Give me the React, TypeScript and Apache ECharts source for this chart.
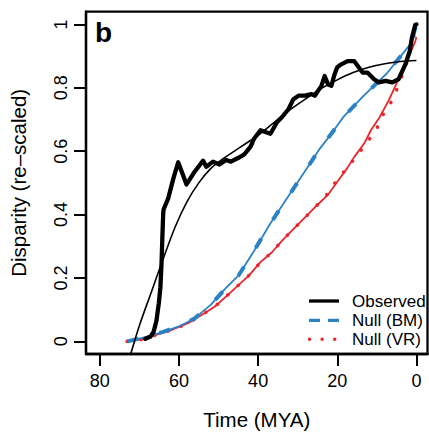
import React, { useEffect, useRef } from "react";
import * as echarts from "echarts";

// ---- data ----
const obsX = [68.5, 67.2, 66.4, 65.7, 65.1, 64.7, 64.4, 64.2, 64.0, 63.9, 62.7, 61.4, 60.2, 58.1, 56.0, 53.9, 53.1, 51.4, 49.8, 48.1, 46.9, 44.8, 43.5, 41.9, 41.0, 39.4, 36.9, 35.2, 34.0, 32.3, 31.1, 29.8, 28.2, 26.5, 25.7, 24.0, 23.2, 22.3, 21.5, 20.7, 20.0, 19.0, 17.4, 15.7, 14.5, 13.6, 12.4, 11.5, 10.7, 9.5, 7.8, 6.1, 4.5, 2.8, 1.7, 1.15, 0.3, 0];
const obsY = [0.008, 0.015, 0.03, 0.065, 0.12, 0.17, 0.25, 0.33, 0.40, 0.416, 0.452, 0.515, 0.565, 0.495, 0.536, 0.57, 0.551, 0.567, 0.558, 0.572, 0.567, 0.58, 0.59, 0.614, 0.64, 0.666, 0.655, 0.692, 0.707, 0.733, 0.764, 0.775, 0.775, 0.78, 0.775, 0.806, 0.837, 0.81, 0.806, 0.842, 0.865, 0.874, 0.884, 0.884, 0.863, 0.848, 0.848, 0.837, 0.827, 0.817, 0.822, 0.817, 0.827, 0.874, 0.915, 0.957, 0.998, 1.0];

const fitX = [72.2, 70, 67, 64, 61, 58, 55, 52, 49, 46, 43, 40, 36, 32, 28, 24, 20, 16, 12, 8, 4, 0];
const fitY = [-0.04, 0.05, 0.155, 0.26, 0.36, 0.44, 0.50, 0.545, 0.575, 0.60, 0.625, 0.65, 0.69, 0.73, 0.765, 0.798, 0.825, 0.848, 0.865, 0.876, 0.883, 0.886];

const bmX = [73, 68, 64, 60, 56, 52, 48, 45, 41, 37, 32.5, 28, 24.4, 21.5, 18.5, 13.3, 7.5, 3, 1.4, 0];
const bmY = [0, 0.015, 0.03, 0.047, 0.073, 0.115, 0.17, 0.207, 0.286, 0.37, 0.455, 0.54, 0.608, 0.655, 0.707, 0.775, 0.845, 0.915, 0.94, 1.0];

const vrX = [73.1, 68.9, 65.6, 61.4, 57.7, 53.9, 51.0, 47.7, 42.3, 39.4, 36.5, 34.0, 31.1, 28.2, 25.3, 22.3, 19.9, 17.4, 15.7, 13.2, 11.5, 9.3, 7.0, 4.9, 2.4, 0.3, 0];
const vrY = [0, 0.007, 0.021, 0.038, 0.057, 0.086, 0.109, 0.146, 0.208, 0.25, 0.281, 0.317, 0.354, 0.39, 0.427, 0.463, 0.505, 0.548, 0.582, 0.624, 0.666, 0.707, 0.76, 0.817, 0.884, 0.946, 0.96];

const vrDotX = [73.1, 68.9, 65.6, 61.4, 57.7, 53.9, 51.0, 47.7, 42.3, 39.4, 36.5, 34.0, 31.1, 28.2, 25.3, 22.8, 20.5, 18.0, 15.5, 13.0, 10.1, 8.9, 6.8, 5.1, 3.7, 2.3, 1.4, 0.4, 0];
const vrDotY = [0, 0.007, 0.021, 0.038, 0.057, 0.086, 0.109, 0.146, 0.208, 0.25, 0.281, 0.317, 0.354, 0.39, 0.427, 0.46, 0.501, 0.54, 0.579, 0.619, 0.668, 0.707, 0.744, 0.79, 0.835, 0.884, 0.93, 0.975, 1.0];

const xTicks = [0, 20, 40, 60, 80];
const yTicks = [0, 0.2, 0.4, 0.6, 0.8, 1];
const legendNames = ["Observed", "Null (BM)", "Null (VR)"];

const FONT = "'Liberation Sans', Arial, Helvetica, sans-serif";
const BLUE = "#2a82c5";
const RED = "#e8262b";

const pairs = (xs: number[], ys: number[]) => xs.map((x, i) => [x, ys[i]]);

export default function App() {
  const ref = useRef<HTMLDivElement>(null);
  useEffect(() => {
    if (!ref.current) return;
    const chart = echarts.init(ref.current, undefined, { renderer: "svg" });
    const lx1 = 309, lx2 = 339, tx = 352;
    const rows = [301, 320.3, 339.3];
    chart.setOption({
      animation: false,
      backgroundColor: "#fff",
      grid: {
        left: 81.7, top: 11.7, right: 1.5, bottom: 77.3,
        show: true, borderColor: "#000", borderWidth: 2.3, backgroundColor: "transparent",
      },
      xAxis: {
        type: "value", inverse: true, min: -2.8, max: 83.5,
        name: "Time (MYA)", nameLocation: "middle", nameGap: 55,
        nameTextStyle: { fontSize: 20.5, color: "#000", fontFamily: FONT },
        axisLine: { show: true, onZero: false, lineStyle: { color: "#000", width: 2.3 } },
        axisTick: { show: true, inside: false, length: 12, customValues: xTicks, lineStyle: { color: "#000", width: 2 } },
        axisLabel: { customValues: xTicks, fontSize: 18, color: "#000", margin: 18, fontFamily: FONT },
        splitLine: { show: false },
      },
      yAxis: {
        type: "value", min: -0.04, max: 1.04,
        name: "Disparity (re\u2013scaled)", nameLocation: "middle", nameGap: 57,
        nameTextStyle: { fontSize: 20.5, color: "#000", fontFamily: FONT },
        axisLine: { show: true, onZero: false, lineStyle: { color: "#000", width: 2.3 } },
        axisTick: { show: true, inside: false, length: 12, customValues: yTicks, lineStyle: { color: "#000", width: 2 } },
        axisLabel: { customValues: yTicks, rotate: 90, fontSize: 18, color: "#000", margin: 16, fontFamily: FONT },
        splitLine: { show: false },
      },
      series: [
        { type: "line", name: "vrLine", data: pairs(vrX, vrY), showSymbol: false, lineStyle: { color: RED, width: 1.8 }, z: 2 },
        { type: "line", name: legendNames[2], data: pairs(vrDotX, vrDotY), showSymbol: false, lineStyle: { color: RED, width: 3.6, type: [0.1, 14], cap: "round" }, z: 3 },
        { type: "line", name: "bmLine", data: pairs(bmX, bmY), showSymbol: false, lineStyle: { color: BLUE, width: 1.8 }, z: 4 },
        { type: "line", name: legendNames[1], data: pairs(bmX, bmY), showSymbol: false, lineStyle: { color: BLUE, width: 4, type: [11, 22] }, z: 5 },
        { type: "line", name: "fit", data: pairs(fitX, fitY), showSymbol: false, smooth: 0.3, lineStyle: { color: "#000", width: 1.6 }, z: 6 },
        { type: "line", name: legendNames[0], data: pairs(obsX, obsY), showSymbol: false, lineStyle: { color: "#000", width: 4.3, join: "round", cap: "round" }, z: 7 },
      ],
      graphic: [
        { type: "text", x: 95, y: 32, style: { text: "b", font: `bold 28px ${FONT}`, fill: "#000", align: "left", verticalAlign: "middle" } },
        { type: "line", shape: { x1: lx1, y1: rows[0], x2: lx2, y2: rows[0] }, style: { stroke: "#000", lineWidth: 3.3 } },
        { type: "line", shape: { x1: lx1, y1: rows[1], x2: lx2, y2: rows[1] }, style: { stroke: BLUE, lineWidth: 3.3, lineDash: [11, 8] } },
        { type: "line", shape: { x1: lx1 + 0.5, y1: rows[2], x2: lx2, y2: rows[2] }, style: { stroke: RED, lineWidth: 3.4, lineDash: [0.1, 12.5], lineCap: "round" } },
        ...legendNames.map((t, i) => ({
          type: "text", x: tx, y: rows[i], style: { text: t, font: `17px ${FONT}`, fill: "#000", align: "left", verticalAlign: "middle" },
        })),
      ],
    });
    return () => chart.dispose();
  }, []);
  return <div ref={ref} style={{ position: "absolute", left: 0, top: 0, width: 429, height: 435 }} />;
}
